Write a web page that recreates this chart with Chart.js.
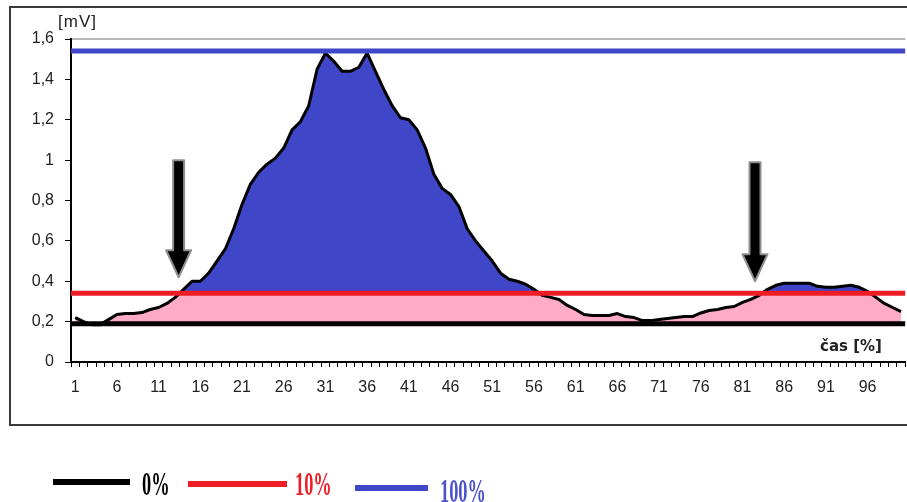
<!DOCTYPE html>
<html>
<head>
<meta charset="utf-8">
<script src="https://cdn.jsdelivr.net/npm/chart.js@4"></script>
<style>
  html, body { margin: 0; padding: 0; background: #fff; overflow: hidden; }
  canvas { display: block; }
</style>
</head>
<body>
<canvas id="signal" width="912" height="502"></canvas>
<script>
// time axis, percent of the record
const casLabels = Array.from({ length: 100 }, (_, i) => String(i + 1));

// measured signal [mV]
const napeti = [
  0.22, 0.20, 0.185, 0.185, 0.21, 0.235, 0.24, 0.24, 0.245, 0.26,
  0.27, 0.29, 0.32, 0.36, 0.40, 0.40, 0.44, 0.50, 0.56, 0.66,
  0.78, 0.88, 0.94, 0.98, 1.01, 1.06, 1.15, 1.19, 1.27, 1.45,
  1.53, 1.49, 1.44, 1.44, 1.46, 1.53, 1.44, 1.35, 1.27, 1.21,
  1.20, 1.15, 1.06, 0.93, 0.86, 0.83, 0.77, 0.66, 0.60, 0.55,
  0.50, 0.44, 0.41, 0.40, 0.385, 0.36, 0.33, 0.32, 0.31, 0.28,
  0.26, 0.235, 0.23, 0.23, 0.23, 0.24, 0.225, 0.22, 0.205, 0.205,
  0.21, 0.215, 0.22, 0.225, 0.225, 0.243, 0.255, 0.26, 0.27, 0.275,
  0.295, 0.31, 0.33, 0.36, 0.38, 0.39, 0.39, 0.39, 0.39, 0.375,
  0.37, 0.37, 0.375, 0.38, 0.37, 0.35, 0.32, 0.29, 0.27, 0.25
];

// reference levels [mV]: 0 %, 10 %, 100 %
const levelNames = ['0%', '10%', '100%'];
const levelValues = [0.19, 0.34, 1.54];
const levelColors = ['#000000', '#ee1c25', '#3f47c8'];

const yTicks = [0, 0.2, 0.4, 0.6, 0.8, 1, 1.2, 1.4, 1.6];

// arrows at the 10 % crossings (category number, top and tip in mV)
const arrowCategory = [13.4, 82.5];
const arrowTop = [1.0, 0.99];
const arrowTip = [0.42, 0.40];

const labelFont = { family: 'Liberation Sans, Arial, sans-serif', size: 16 };

function drawArrow(ctx, x, yTop, yTip) {
  const shaft = 5.5, head = 12.5, headLen = 27;
  const yHead = yTip - headLen;
  ctx.beginPath();
  ctx.moveTo(x - shaft, yTop);
  ctx.lineTo(x + shaft, yTop);
  ctx.lineTo(x + shaft, yHead);
  ctx.lineTo(x + head, yHead);
  ctx.lineTo(x, yTip);
  ctx.lineTo(x - head, yHead);
  ctx.lineTo(x - shaft, yHead);
  ctx.closePath();
  ctx.fillStyle = '#000';
  ctx.fill();
  ctx.strokeStyle = '#8e8e8e';
  ctx.lineWidth = 2;
  ctx.lineJoin = 'round';
  ctx.stroke();
}

const decor = {
  id: 'decor',
  beforeDraw(chart) {
    const ctx = chart.ctx, a = chart.chartArea;
    ctx.save();
    ctx.strokeStyle = '#3a3a3a';
    ctx.lineWidth = 2;
    ctx.beginPath();
    ctx.moveTo(chart.width, 425);
    ctx.lineTo(10, 425);
    ctx.lineTo(10, 7);
    ctx.lineTo(chart.width, 7);
    ctx.stroke();
    ctx.strokeStyle = '#a0a0a0';
    ctx.lineWidth = 1.5;
    ctx.beginPath();
    ctx.moveTo(a.left, a.top);
    ctx.lineTo(a.right, a.top);
    ctx.stroke();
    ctx.restore();
  },
  afterDatasetsDraw(chart) {
    const ctx = chart.ctx, a = chart.chartArea;
    const xs = chart.scales.x, ys = chart.scales.y;
    ctx.save();
    ctx.lineWidth = 5;
    levelValues.forEach((v, i) => {
      const y = ys.getPixelForValue(v);
      ctx.strokeStyle = levelColors[i];
      ctx.beginPath();
      ctx.moveTo(a.left, y);
      ctx.lineTo(a.right, y);
      ctx.stroke();
    });
    arrowCategory.forEach((c, i) => {
      drawArrow(ctx, xs.getPixelForValue(c - 1),
        ys.getPixelForValue(arrowTop[i]), ys.getPixelForValue(arrowTip[i]));
    });
    ctx.restore();
  },
  afterDraw(chart) {
    const ctx = chart.ctx, a = chart.chartArea;
    ctx.save();
    ctx.fillStyle = '#222';
    ctx.textBaseline = 'middle';
    ctx.font = '17px Liberation Sans, Arial, sans-serif';
    ctx.letterSpacing = '1px';
    ctx.fillText('[mV]', a.left - 13, 22);
    ctx.font = 'bold 15px DejaVu Sans, sans-serif';
    ctx.letterSpacing = '0px';
    ctx.fillText('čas [%]', 820, 347);

    // legend under the chart
    const lines = [[53, 130, 482], [188, 287, 484], [355, 428, 488]];
    const texts = [[142, 495], [295, 495], [440, 502]];
    const textColors = ['#000000', '#ee1c25', '#4b52cc'];
    ctx.lineWidth = 6;
    ctx.textBaseline = 'alphabetic';
    levelNames.forEach((name, i) => {
      const [x0, x1, y] = lines[i];
      ctx.strokeStyle = levelColors[i];
      ctx.beginPath();
      ctx.moveTo(x0, y);
      ctx.lineTo(x1, y);
      ctx.stroke();
      ctx.save();
      ctx.translate(texts[i][0], texts[i][1]);
      ctx.scale(0.54, 1);
      ctx.font = 'bold 34px Liberation Serif, Times New Roman, serif';
      ctx.fillStyle = textColors[i];
      ctx.fillText(name, 0, 0);
      ctx.restore();
    });
    ctx.restore();
  }
};

new Chart(document.getElementById('signal'), {
  type: 'line',
  data: {
    labels: casLabels,
    datasets: [{
      data: napeti,
      borderColor: '#000',
      borderWidth: 3,
      borderJoinStyle: 'round',
      pointRadius: 0,
      tension: 0,
      fill: { target: { value: levelValues[1] }, above: levelColors[2], below: 'transparent' }
    }, {
      data: napeti,
      borderColor: 'transparent',
      borderWidth: 0,
      pointRadius: 0,
      tension: 0,
      fill: { target: { value: levelValues[0] }, above: '#ffaac6', below: 'transparent' }
    }]
  },
  options: {
    responsive: false,
    animation: false,
    devicePixelRatio: 1,
    layout: { padding: { top: 39, left: 0, right: 2, bottom: 110 } },
    plugins: { legend: { display: false }, tooltip: { enabled: false } },
    scales: {
      x: {
        type: 'category',
        offset: true,
        grid: { offset: true, drawOnChartArea: false, tickLength: 5, color: '#000' },
        border: { color: '#000', width: 2 },
        ticks: {
          autoSkip: false, maxRotation: 0, minRotation: 0, padding: 11,
          color: '#222', font: labelFont,
          callback(value, index) { return index % 5 === 0 ? this.getLabelForValue(value) : ''; }
        },
        afterFit(scale) { scale.height = 30; }
      },
      y: {
        min: 0,
        max: 1.6,
        afterBuildTicks(scale) { scale.ticks = yTicks.map(v => ({ value: v })); },
        grid: { drawOnChartArea: false, tickLength: 6, color: '#000' },
        border: { color: '#000', width: 2 },
        ticks: {
          padding: 11, color: '#222', font: labelFont,
          callback: v => String(Math.round(v * 10) / 10).replace('.', ',')
        },
        afterFit(scale) { scale.width = 71; }
      }
    }
  },
  plugins: [decor]
});
</script>
</body>
</html>
